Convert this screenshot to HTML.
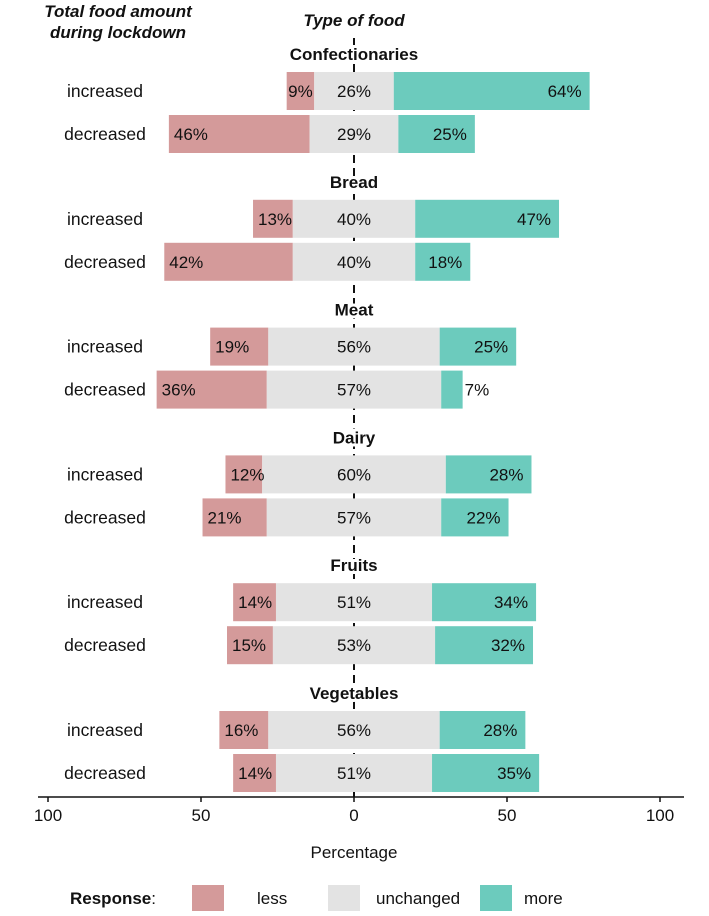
<!DOCTYPE html>
<html><head><meta charset="utf-8">
<style>
body{margin:0;background:#fff;}
svg text{font-family:"Liberation Sans",Arial,sans-serif;fill:#111;}
</style></head>
<body>
<svg id="chart" width="709" height="911" xmlns="http://www.w3.org/2000/svg">
<text x="118" y="17" text-anchor="middle" font-size="17" font-weight="bold" font-style="italic">Total food amount</text>
<text x="118" y="38" text-anchor="middle" font-size="17" font-weight="bold" font-style="italic">during lockdown</text>
<text x="354" y="26" text-anchor="middle" font-size="17" font-weight="bold" font-style="italic">Type of food</text>
<line x1="354" y1="38" x2="354" y2="797" stroke="#111" stroke-width="2" stroke-dasharray="8,5"/>
<g id="bars"></g>
<line x1="38" y1="797" x2="684" y2="797" stroke="#111" stroke-width="1.5"/>
<g id="ticks"></g>
<text x="354" y="858" text-anchor="middle" font-size="17">Percentage</text>
<g>
<text x="70" y="904" font-size="17"><tspan font-weight="bold">Response</tspan>:</text>
<rect x="192" y="885" width="32" height="28" fill="#d49a9a"/>
<text x="257" y="904" font-size="17">less</text>
<rect x="328" y="885" width="32" height="28" fill="#e3e3e3"/>
<text x="376" y="904" font-size="17">unchanged</text>
<rect x="480" y="885" width="32" height="28" fill="#6ccbbd"/>
<text x="524" y="904" font-size="17">more</text>
</g>
</svg>
<script>
const foods = ["Confectionaries","Bread","Meat","Dairy","Fruits","Vegetables"];
const rows = ["increased","decreased"];
const lessVals = [[9,46],[13,42],[19,36],[12,21],[14,15],[16,14]];
const unchVals = [[26,29],[40,40],[56,57],[60,57],[51,53],[56,51]];
const moreVals = [[64,25],[47,18],[25,7],[28,22],[34,32],[28,35]];
const tickVals = [-100,-50,0,50,100];
const tickLabels = ["100","50","0","50","100"];

const NS="http://www.w3.org/2000/svg";
const x0=354, k=3.06;
const xs = v => x0 + v*k;
const groupY = i => 54 + i*127.8;
const rowY = (i,j) => groupY(i) + 37 + j*43;
const bh=38;
const bars=document.getElementById('bars');
function mk(tag,attrs,parent){const e=document.createElementNS(NS,tag);for(const a in attrs)e.setAttribute(a,attrs[a]);parent.appendChild(e);return e;}
function txt(x,y,s,anchor,parent,size,bold){const t=mk('text',{x:x,y:y,'text-anchor':anchor,'font-size':size||17},parent);if(bold)t.setAttribute('font-weight','bold');t.textContent=s;return t;}
foods.forEach((f,i)=>{
  const gt=txt(354,groupY(i)+6,f,'middle',bars,17,true);
  gt.setAttribute('stroke','#fff');
  gt.setAttribute('stroke-width','6');
  gt.setAttribute('paint-order','stroke');
  
  
  rows.forEach((r,j)=>{
    const cy=rowY(i,j);
    const l=lessVals[i][j], u=unchVals[i][j], m=moreVals[i][j];
    const uL=-u/2, uR=u/2;
    const rl=txt(105,cy+6,r,'middle',bars,17.5);
    
    
    const a=mk('rect',{x:xs(uL-l),y:cy-bh/2,width:l*k,height:bh,fill:'#d49a9a'},bars);
    
    
    const b=mk('rect',{x:xs(uL),y:cy-bh/2,width:u*k,height:bh,fill:'#e3e3e3'},bars);
    
    
    const c=mk('rect',{x:xs(uR),y:cy-bh/2,width:m*k,height:bh,fill:'#6ccbbd'},bars);
    
    
    let t1;
    if(l*k<36) t1=txt(xs(uL-l/2),cy+6,l+'%','middle',bars);
    else t1=txt(xs(uL-l)+5,cy+6,l+'%','start',bars);
    
    
    const t2=txt(xs(0),cy+6,u+'%','middle',bars);
    
    
    let t3;
    if(m*k<36) t3=txt(xs(uR+m)+2,cy+6,m+'%','start',bars);
    else t3=txt(xs(uR+m)-8,cy+6,m+'%','end',bars);
    
    
  });
});
const tg=document.getElementById('ticks');
tickVals.forEach((v,i)=>{
  const tl=mk('line',{x1:xs(v),y1:797,x2:xs(v),y2:802,stroke:'#111','stroke-width':1.5},tg);
  
  
  const t=txt(xs(v),821,tickLabels[i],'middle',tg,17);
  
  
});
</script>
</body></html>
